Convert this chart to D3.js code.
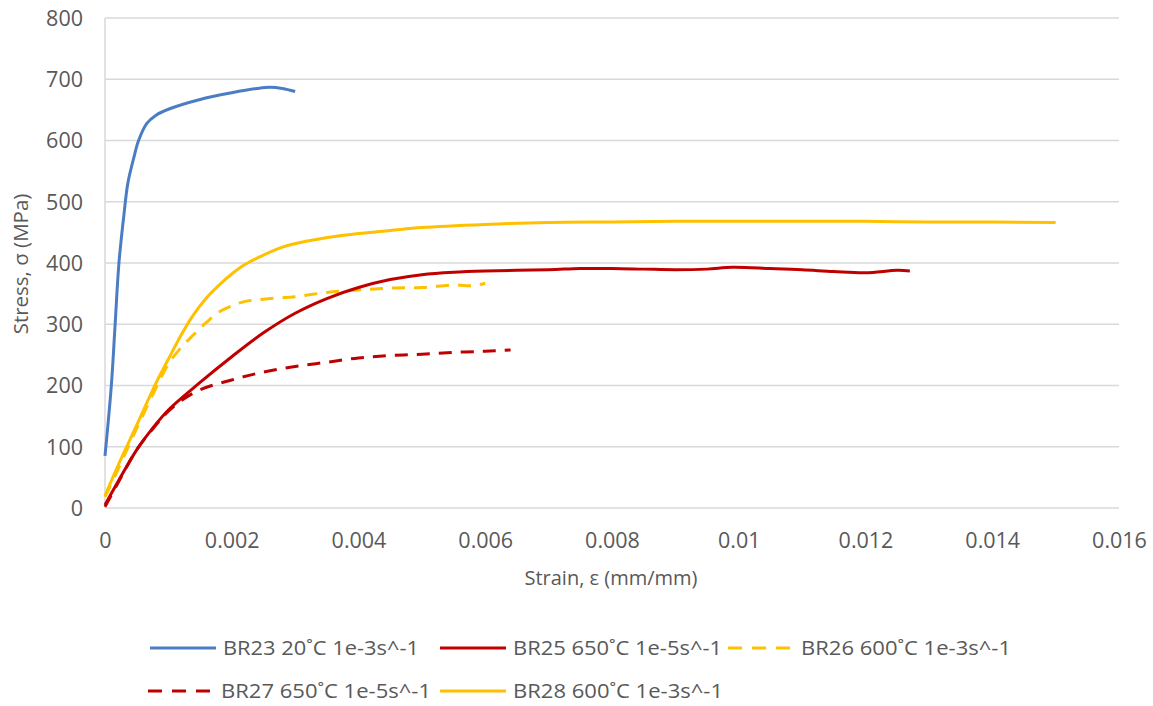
<!DOCTYPE html>
<html><head><meta charset="utf-8">
<script src="https://cdn.jsdelivr.net/npm/d3@7"></script>
<style>body{margin:0;background:#fff}svg{display:block}</style>
</head><body><svg id="c" width="1153" height="706"></svg>
<script>
// ---- data ----
const xTicks = [0,0.002,0.004,0.006,0.008,0.01,0.012,0.014,0.016];
const xTickLabels = ["0","0.002","0.004","0.006","0.008","0.01","0.012","0.014","0.016"];
const yTicks = [0,100,200,300,400,500,600,700,800];
const seriesNames = ["BR23 20˚C 1e-3s^-1","BR25 650˚C 1e-5s^-1","BR26 600˚C 1e-3s^-1","BR27 650˚C 1e-5s^-1","BR28 600˚C 1e-3s^-1"];
const br23 = [[0,85],[0.0001,200],[0.00016,300],[0.00022,400],[0.0003,480],[0.00036,530],[0.00045,570],[0.00053,600],[0.00066,628],[0.0008,641],[0.001,651],[0.0015,667],[0.002,678],[0.0024,685],[0.0026,687],[0.0028,685],[0.003,680]];
const br25 = [[0,5],[0.0002,42],[0.0005,95],[0.00075,130],[0.001,160],[0.0015,205],[0.002,247],[0.0025,286],[0.003,318],[0.0035,342],[0.004,360],[0.0045,373],[0.005,381],[0.0055,385],[0.006,387],[0.007,389],[0.0075,391],[0.008,391],[0.0085,390],[0.009,389],[0.0095,390],[0.0099,393],[0.0105,391],[0.011,389],[0.0115,386],[0.012,384],[0.0125,388],[0.0127,387]];
const br26 = [[0,18],[0.0002,62],[0.0005,130],[0.0008,195],[0.001,235],[0.0012,262],[0.0014,283],[0.0016,303],[0.0018,320],[0.002,330],[0.0022,337],[0.0025,341],[0.003,345],[0.0035,352],[0.004,356],[0.0045,359],[0.005,360],[0.0055,364],[0.0058,363],[0.006,367]];
const br27 = [[0,2],[0.0002,40],[0.0005,95],[0.0008,135],[0.001,158],[0.0012,175],[0.0015,193],[0.002,209],[0.0025,222],[0.003,231],[0.0035,238],[0.004,245],[0.0045,249],[0.005,251],[0.0055,254],[0.006,256],[0.0064,258]];
const br28 = [[0,20],[0.0002,68],[0.0004,113],[0.0006,158],[0.0008,203],[0.001,243],[0.0012,282],[0.0014,316],[0.0016,343],[0.0018,364],[0.002,382],[0.0022,397],[0.0025,413],[0.0028,426],[0.0032,436],[0.0036,443],[0.004,448],[0.0045,453],[0.005,458],[0.006,463],[0.007,466],[0.008,467],[0.009,468],[0.01,468],[0.011,468],[0.012,468],[0.013,467],[0.014,467],[0.015,466]];

const seriesData = [br23, br25, br26, br27, br28];
const colors = ["#4A7DC4","#C00000","#FFC000","#C00000","#FFC000"];
const dashes = [null,null,"13,9","13,9",null];

const svg = d3.select("#c");
const x = d3.scaleLinear().domain([0,0.016]).range([105,1119]);
const y = d3.scaleLinear().domain([0,800]).range([508,18]);
const font = "'Open Sans', sans-serif";
const grey = "#595959";

// gridlines
svg.append("g").selectAll("line").data(yTicks).join("line")
  .attr("x1",x(0)).attr("x2",x(0.016)).attr("y1",d=>y(d)).attr("y2",d=>y(d))
  .attr("stroke","#d9d9d9").attr("stroke-width",1.5);
svg.append("line").attr("x1",x(0)).attr("x2",x(0)).attr("y1",y(0)).attr("y2",y(800))
  .attr("stroke","#d9d9d9").attr("stroke-width",1.5);

// axes via d3
const yAxis = d3.axisLeft(y).tickValues(yTicks).tickSize(0).tickPadding(0);
const ga = svg.append("g").attr("transform","translate(83,0)").call(yAxis);
ga.select(".domain").remove();
ga.selectAll("text").attr("font-family",font).attr("font-size",21.5).attr("fill",grey).attr("dy","0.34em");

const xAxis = d3.axisBottom(x).tickValues(xTicks).tickSize(0).tickPadding(0)
  .tickFormat((d,i)=>xTickLabels[i]);
const gx = svg.append("g").attr("transform","translate(0,548)").call(xAxis);
gx.select(".domain").remove();
gx.selectAll("text").attr("font-family",font).attr("font-size",21.5).attr("fill",grey).attr("dy","0");

// axis titles
svg.append("text").attr("x",611).attr("y",585).attr("text-anchor","middle")
  .attr("font-family",font).attr("font-size",20).attr("fill",grey).text("Strain, ε (mm/mm)");
svg.append("text").attr("transform","translate(28,264) rotate(-90)").attr("text-anchor","middle")
  .attr("font-family",font).attr("font-size",20.5).attr("fill",grey).text("Stress, σ (MPa)");

// lines
const line = d3.line().x(d=>x(d[0])).y(d=>y(d[1])).curve(d3.curveCatmullRom.alpha(0.5));
const order = [4,2,1,3,0];
order.forEach(i=>{
  svg.append("path").attr("d",line(seriesData[i])).attr("fill","none")
    .attr("stroke",colors[i]).attr("stroke-width",3)
    .attr("stroke-dasharray",dashes[i]).attr("stroke-linecap","butt");
});

// legend
const legendPos = [[150,648],[440,648],[728,648],[148,691],[440,691]];
const legendText = [196,209,210,210,210];
seriesNames.forEach((n,i)=>{
  const [lx,ly] = legendPos[i];
  svg.append("line").attr("x1",lx).attr("x2",lx+66).attr("y1",ly).attr("y2",ly)
    .attr("stroke",colors[i]).attr("stroke-width",3).attr("stroke-dasharray",dashes[i]?"14,10":null);
  svg.append("text").attr("x",lx+73).attr("y",ly+7).attr("font-family",font).attr("font-size",19.5)
    .attr("fill",grey).attr("textLength",legendText[i]).attr("lengthAdjust","spacingAndGlyphs").text(n);
});
</script></body></html>
